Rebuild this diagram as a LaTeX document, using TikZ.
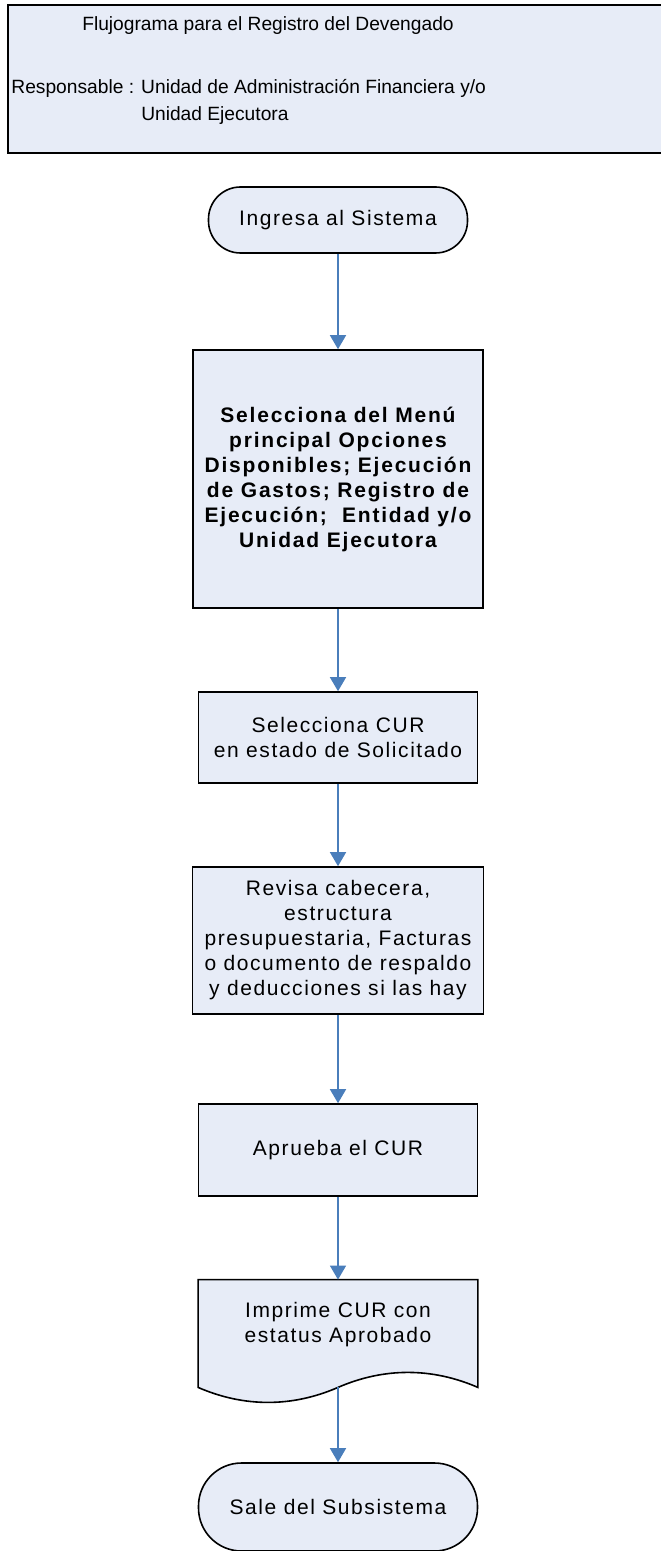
\documentclass[tikz,border=0pt]{standalone}
\usepackage{fontspec}
\setmainfont{Liberation Sans}
\newfontfamily\boxfont[LetterSpace=7.5,BoldFeatures={LetterSpace=8.5}]{Liberation Sans}
\usepackage{tikz}
\usetikzlibrary{arrows.meta,positioning,backgrounds}
\usepackage{xcolor}
\newcommand{\myunit}{0.5pt}
\definecolor{fillblue}{RGB}{231,236,247}
\definecolor{arrowblue}{RGB}{74,126,187}
\tikzset{
    hdrsty/.style={draw,fill=fillblue,rectangle,line width=0.8pt,anchor=north west,minimum width=655*\myunit,minimum height=148*\myunit},
    hdtxtsty/.style={inner sep=0pt,font=\fontsize{9.6pt}{13.5pt}\selectfont},
    prcsty/.style={draw,fill=fillblue,rectangle,line width=0.8pt,inner sep=0pt,align=center,font=\boxfont\fontsize{10.5pt}{12.5pt}\selectfont},
    boldsty/.style={prcsty,font=\boxfont\bfseries\fontsize{10.5pt}{12.5pt}\selectfont},
    termsty/.style={prcsty,rounded corners=#1},
    docsty/.style={rectangle,inner sep=0pt,align=center,font=\boxfont\fontsize{10.5pt}{12.5pt}\selectfont},
    docshsty/.style={draw,fill=fillblue,line width=0.8pt},
    arrsty/.style={->,draw=arrowblue,line width=0.75pt},
}

\begin{document}
\begin{tikzpicture}[x=\myunit,y=-\myunit,>={Triangle[length=7pt,width=8pt]}]
  \useasboundingbox (0,0) rectangle (660,1551);

  \node[hdrsty] (hdr) at (7,4) {};
  \node[hdtxtsty,anchor=base] (title) at (268,31) {Flujograma para el Registro del Devengado};
  \node[hdtxtsty,anchor=base west,align=left] (resp) at (11,121) {Responsable : Unidad de Administración Financiera y/o\\\phantom{Responsable : }Unidad Ejecutora};

  \node[termsty=16pt,minimum width=259*\myunit,minimum height=66*\myunit] (start) at (338,220) {Ingresa al Sistema};
  \node[boldsty,minimum width=290*\myunit,minimum height=258*\myunit] (menu) at (338,479) {Selecciona del Menú\\principal Opciones\\Disponibles; Ejecución\\de Gastos; Registro de\\Ejecución;~ Entidad y/o\\Unidad Ejecutora};
  \node[prcsty,minimum width=279*\myunit,minimum height=91*\myunit] (selcur) at (338,737.5) {Selecciona CUR\\en estado de Solicitado};
  \node[prcsty,minimum width=291*\myunit,minimum height=147*\myunit] (revisa) at (338,940.5) {Revisa cabecera,\\estructura\\presupuestaria, Facturas\\o documento de respaldo\\y deducciones si las hay};
  \node[prcsty,minimum width=279*\myunit,minimum height=92*\myunit] (aprueba) at (338,1150) {Aprueba el CUR};
  \node[docsty,minimum width=279*\myunit,minimum height=90*\myunit] (doc) at (338,1325) {Imprime CUR con\\estatus Aprobado};
  \coordinate (docbot) at ([yshift=-8.5pt]doc.south);
  \begin{scope}[on background layer]
    \draw[docshsty] (doc.north west) -- (doc.north east) -- ([yshift=-8.5pt]doc.south east)
      .. controls +(-23pt,10pt) and +(23pt,10pt) .. (docbot)
      .. controls +(-23pt,-10pt) and +(23pt,-10pt) .. ([yshift=-8.5pt]doc.south west) -- cycle;
  \end{scope}
  \node[termsty=21.5pt,minimum width=279*\myunit,minimum height=88*\myunit] (exit) at (338,1507) {Sale del Subsistema};

  \draw[arrsty] (start) -- (menu);
  \draw[arrsty] (menu) -- (selcur);
  \draw[arrsty] (selcur) -- (revisa);
  \draw[arrsty] (revisa) -- (aprueba);
  \draw[arrsty] (aprueba) -- (doc);
  \draw[arrsty] (docbot) -- (exit);
\end{tikzpicture}
\end{document}
